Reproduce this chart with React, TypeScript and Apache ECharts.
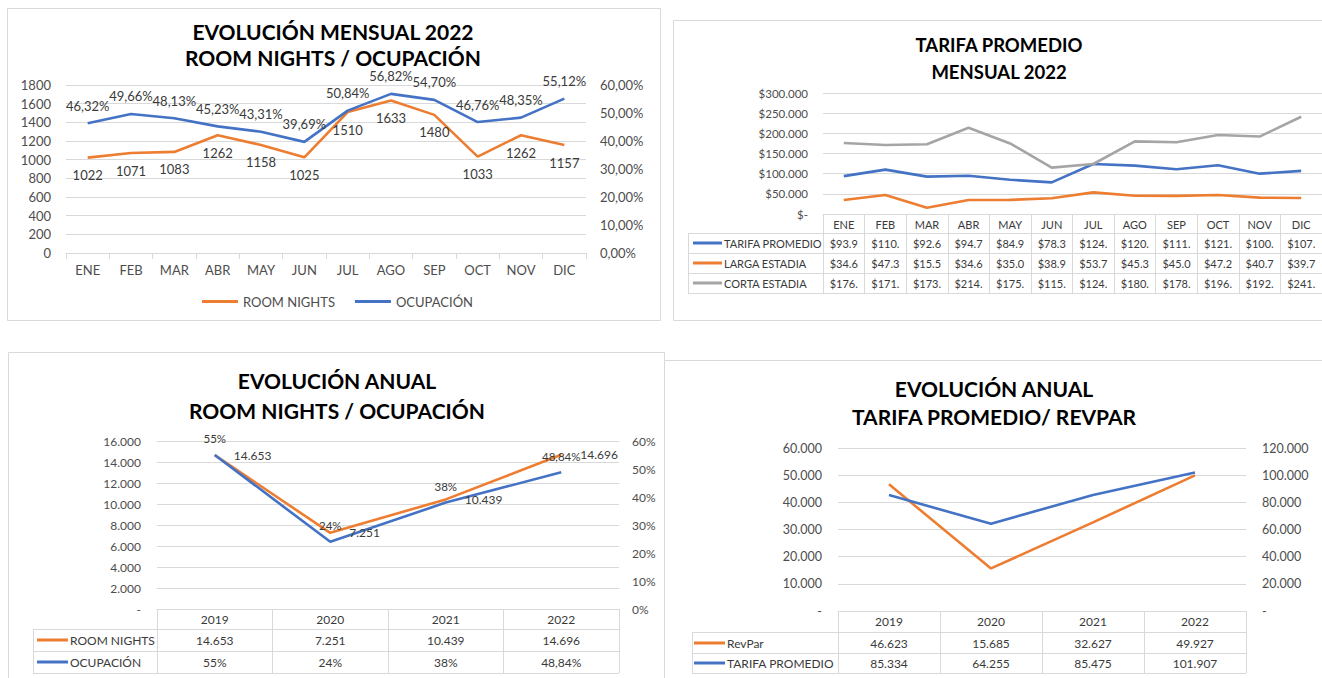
import React, { useEffect, useRef } from 'react';
import * as echarts from 'echarts';

// ---------- DATA ----------
const MONTHS = ['ENE', 'FEB', 'MAR', 'ABR', 'MAY', 'JUN', 'JUL', 'AGO', 'SEP', 'OCT', 'NOV', 'DIC'];
const ROOM_NIGHTS_2022 = [1022, 1071, 1083, 1262, 1158, 1025, 1510, 1633, 1480, 1033, 1262, 1157];
const OCUPACION_2022 = [46.32, 49.66, 48.13, 45.23, 43.31, 39.69, 50.84, 56.82, 54.7, 46.76, 48.35, 55.12];
const LEFT1_TICKS = { min: 0, max: 1800, interval: 200 };
const RIGHT1_TICKS = { min: 0, max: 60, interval: 10 };

const TARIFA_PROMEDIO_MES = [93900, 110000, 92600, 94700, 84900, 78300, 124000, 120000, 111000, 121000, 100000, 107000];
const LARGA_ESTADIA_MES = [34600, 47300, 15500, 34600, 35000, 38900, 53700, 45300, 45000, 47200, 40700, 39700];
const CORTA_ESTADIA_MES = [176000, 171000, 173000, 214000, 175000, 115000, 124000, 180000, 178000, 196000, 192000, 241000];
const TARIFA_TICKS = { min: 0, max: 300000, interval: 50000 };

const YEARS = ['2019', '2020', '2021', '2022'];
const ROOM_NIGHTS_ANUAL = [14653, 7251, 10439, 14696];
const OCUPACION_ANUAL = [55, 24, 38, 48.84];
const LEFT3_TICKS = { min: 0, max: 16000, interval: 2000 };
const RIGHT3_TICKS = { min: 0, max: 60, interval: 10 };

const REVPAR_ANUAL = [46623, 15685, 32627, 49927];
const TARIFA_ANUAL = [85334, 64255, 85475, 101907];
const LEFT4_TICKS = { min: 0, max: 60000, interval: 10000 };
const RIGHT4_TICKS = { min: 0, max: 120000, interval: 20000 };

const S_RN = 'ROOM NIGHTS';
const S_OCU = 'OCUPACIÓN';
const S_TP = 'TARIFA PROMEDIO';
const S_LE = 'LARGA ESTADIA';
const S_CE = 'CORTA ESTADIA';
const S_RP = 'RevPar';

// ---------- STYLE ----------
const FONT = 'Lato, "Open Sans", "Noto Sans", sans-serif';
const AX = '#4d4d4d';
const TXT = '#3a3a3a';
const LINE = '#d9d9d9';
const ORANGE = '#ED7D31';
const BLUE = '#4472C4';
const GRAY = '#A5A5A5';

const thousands = (v: number) => Math.round(v).toString().replace(/\B(?=(\d{3})+(?!\d))/g, '.');
const pct2 = (v: number) => v.toFixed(2).replace('.', ',') + '%';
const pctAuto = (v: number) => (Number.isInteger(v) ? v + '%' : v.toFixed(2).replace('.', ',') + '%');
const money5 = (v: number) => ('$' + thousands(v)).slice(0, 5);

// panel grid rectangles (layout)
const G1 = { l: 66, r: 586, t: 85, b: 253 };
const G2 = { l: 823, r: 1332, t: 93, b: 214 };
const G3 = { l: 157, r: 619, t: 441, b: 609 };
const G4 = { l: 838, r: 1246, t: 448, b: 611 };

function gridOf(g: any) {
  return { left: g.l, top: g.t, width: g.r - g.l, height: g.b - g.t, containLabel: false };
}

function rowAxis(gridIndex: number, cats: string[], offset: number, texts: string[], fontSize: number) {
  return {
    type: 'category', gridIndex, position: 'bottom', offset, data: cats, boundaryGap: true,
    axisLine: { show: false }, axisTick: { show: false }, splitLine: { show: false },
    axisLabel: {
      interval: 0, margin: 0, verticalAlign: 'middle', fontSize, color: TXT, fontFamily: FONT,
      formatter: (_v: string, i: number) => texts[i],
    },
  };
}

function headerAxis(gridIndex: number, cats: string[], tickLen: number, fontSize: number) {
  return {
    type: 'category', gridIndex, position: 'bottom', data: cats, boundaryGap: true,
    axisLine: { show: true, lineStyle: { color: LINE, width: 1 } },
    axisTick: { show: true, length: tickLen, lineStyle: { color: LINE, width: 1 } },
    axisLabel: { interval: 0, margin: 10, verticalAlign: 'middle', fontSize, color: TXT, fontFamily: FONT },
  };
}

function valAxis(gridIndex: number, pos: string, t: any, fmt: (v: number) => string, margin: number, fontSize: number, split: boolean) {
  return {
    type: 'value', gridIndex, position: pos, min: t.min, max: t.max, interval: t.interval,
    axisLine: { show: false }, axisTick: { show: false },
    splitLine: { show: split, lineStyle: { color: LINE, width: 1 } },
    axisLabel: { formatter: fmt, margin, fontSize, color: AX, fontFamily: FONT },
  };
}

function lineSeries(name: string, xi: number, yi: number, data: number[], color: string, label?: any) {
  return {
    type: 'line', name, xAxisIndex: xi, yAxisIndex: yi, data,
    symbol: 'circle', symbolSize: 0.01, showSymbol: true,
    lineStyle: { color, width: 2.6 }, itemStyle: { color },
    label: label ? { show: true, fontSize: 13, color: TXT, fontFamily: FONT, ...label } : { show: false },
  };
}

function hLine(x1: number, x2: number, y: number) {
  return { type: 'line', shape: { x1, y1: y + 0.5, x2, y2: y + 0.5 }, style: { stroke: LINE, lineWidth: 1 }, silent: true };
}
function vLine(x: number, y1: number, y2: number) {
  return { type: 'line', shape: { x1: x + 0.5, y1, x2: x + 0.5, y2 }, style: { stroke: LINE, lineWidth: 1 }, silent: true };
}
function txt(text: string, x: number, y: number, size: number, opts: any = {}) {
  return {
    type: 'text', silent: true,
    style: {
      text, x, y, fill: opts.fill || '#000', fontSize: size, fontFamily: FONT, fontWeight: opts.bold ? 'bold' : 'normal',
      align: opts.align || 'left', textAlign: opts.align || 'left', verticalAlign: 'middle', textVerticalAlign: 'middle',
    },
  };
}
function key(x1: number, x2: number, y: number, color: string) {
  return { type: 'line', shape: { x1, y1: y, x2, y2: y }, style: { stroke: color, lineWidth: 3 }, silent: true };
}
function panel(x: number, y: number, w: number, h: number) {
  return { type: 'rect', shape: { x: x + 0.5, y: y + 0.5, width: w, height: h }, style: { fill: '#fff', stroke: LINE, lineWidth: 1 }, silent: true, z: -10 };
}

export default function App() {
  const ref = useRef<HTMLDivElement>(null);
  useEffect(() => {
    if (!ref.current) return;
    const chart = echarts.init(ref.current, undefined, { renderer: 'svg' });

    const t2Rows = [
      { name: S_TP, color: BLUE, vals: TARIFA_PROMEDIO_MES.map(money5), y: 243 },
      { name: S_LE, color: ORANGE, vals: LARGA_ESTADIA_MES.map(money5), y: 263 },
      { name: S_CE, color: GRAY, vals: CORTA_ESTADIA_MES.map(money5), y: 283 },
    ];
    const t3Rows = [
      { name: S_RN, color: ORANGE, vals: ROOM_NIGHTS_ANUAL.map(thousands), y: 640 },
      { name: S_OCU, color: BLUE, vals: OCUPACION_ANUAL.map(pctAuto), y: 662 },
    ];
    const t4Rows = [
      { name: S_RP, color: ORANGE, vals: REVPAR_ANUAL.map(thousands), y: 643 },
      { name: S_TP, color: BLUE, vals: TARIFA_ANUAL.map(thousands), y: 663 },
    ];

    const graphics: any[] = [
      panel(7, 8, 653, 312),
      panel(673, 20, 660, 300),
      panel(8, 352, 656, 340),
      panel(664, 360, 670, 330),
      txt('EVOLUCIÓN MENSUAL 2022', 333, 31, 21, { bold: true, align: 'center' }),
      txt('ROOM NIGHTS / OCUPACIÓN', 333, 57, 21, { bold: true, align: 'center' }),
      txt('TARIFA PROMEDIO', 999, 45, 18.5, { bold: true, align: 'center' }),
      txt('MENSUAL 2022', 999, 72, 18.5, { bold: true, align: 'center' }),
      txt('EVOLUCIÓN ANUAL', 337, 380, 21, { bold: true, align: 'center' }),
      txt('ROOM NIGHTS / OCUPACIÓN', 337, 410, 21, { bold: true, align: 'center' }),
      txt('EVOLUCIÓN ANUAL', 994, 388, 21, { bold: true, align: 'center' }),
      txt('TARIFA PROMEDIO/ REVPAR', 994, 416, 21, { bold: true, align: 'center' }),
      hLine(688, 1332, 233), hLine(688, 1332, 253), hLine(688, 1332, 273), hLine(688, 1332, 293),
      vLine(688, 233, 293),
      hLine(33, G3.r, 629), hLine(33, G3.r, 651), hLine(33, G3.r, 673),
      vLine(33, 629, 673),
      hLine(692, G4.r, 632), hLine(692, G4.r, 653), hLine(692, G4.r, 673),
      vLine(692, 632, 673),
    ];
    t2Rows.forEach((r) => { graphics.push(key(693, 722, r.y, r.color), txt(r.name, 724, r.y, 11, { fill: TXT })); });
    t3Rows.forEach((r) => { graphics.push(key(37, 68, r.y, r.color), txt(r.name, 70, r.y, 12, { fill: TXT })); });
    t4Rows.forEach((r) => { graphics.push(key(694, 725, r.y, r.color), txt(r.name, 727, r.y, 12, { fill: TXT })); });

    const option: any = {
      animation: false,
      backgroundColor: '#fff',
      textStyle: { fontFamily: FONT },
      grid: [gridOf(G1), gridOf(G2), gridOf(G3), gridOf(G4)],
      legend: {
        data: [S_RN, S_OCU], left: 197, top: 290, icon: 'rect', itemWidth: 36, itemHeight: 3, itemGap: 20,
        textStyle: { fontSize: 13, color: AX, fontFamily: FONT }, selectedMode: false,
      },
      xAxis: [
        {
          type: 'category', gridIndex: 0, data: MONTHS, boundaryGap: true,
          axisLine: { lineStyle: { color: LINE } }, axisTick: { show: true, length: 6, lineStyle: { color: LINE } },
          axisLabel: { interval: 0, margin: 10, fontSize: 13, color: AX, fontFamily: FONT },
        },
        headerAxis(1, MONTHS, 79, 11),
        rowAxis(1, MONTHS, t2Rows[0].y - G2.b, t2Rows[0].vals, 11),
        rowAxis(1, MONTHS, t2Rows[1].y - G2.b, t2Rows[1].vals, 11),
        rowAxis(1, MONTHS, t2Rows[2].y - G2.b, t2Rows[2].vals, 11),
        headerAxis(2, YEARS, 64, 12),
        rowAxis(2, YEARS, t3Rows[0].y - G3.b, t3Rows[0].vals, 12),
        rowAxis(2, YEARS, t3Rows[1].y - G3.b, t3Rows[1].vals, 12),
        headerAxis(3, YEARS, 62, 12),
        rowAxis(3, YEARS, t4Rows[0].y - G4.b, t4Rows[0].vals, 12),
        rowAxis(3, YEARS, t4Rows[1].y - G4.b, t4Rows[1].vals, 12),
      ],
      yAxis: [
        valAxis(0, 'left', LEFT1_TICKS, (v) => String(v), 15, 13, true),
        valAxis(0, 'right', RIGHT1_TICKS, pct2, 14, 13, false),
        valAxis(1, 'left', TARIFA_TICKS, (v) => (v === 0 ? '$-' : '$' + thousands(v)), 15, 11.5, true),
        valAxis(2, 'left', LEFT3_TICKS, (v) => (v === 0 ? '-' : thousands(v)), 16, 12, true),
        valAxis(2, 'right', RIGHT3_TICKS, (v) => v + '%', 13, 12, false),
        valAxis(3, 'left', LEFT4_TICKS, (v) => (v === 0 ? '-' : thousands(v)), 16, 12.5, true),
        valAxis(3, 'right', RIGHT4_TICKS, (v) => (v === 0 ? '-' : thousands(v)), 16, 12.5, false),
      ],
      series: [
        lineSeries(S_RN, 0, 0, ROOM_NIGHTS_2022, ORANGE, { position: 'bottom', distance: 11 }),
        lineSeries(S_OCU, 0, 1, OCUPACION_2022, BLUE, { position: 'top', distance: 11, formatter: (p: any) => pct2(p.value) }),
        lineSeries(S_TP, 1, 2, TARIFA_PROMEDIO_MES, BLUE),
        lineSeries(S_LE, 1, 2, LARGA_ESTADIA_MES, ORANGE),
        lineSeries(S_CE, 1, 2, CORTA_ESTADIA_MES, GRAY),
        lineSeries(S_RN, 5, 3, ROOM_NIGHTS_ANUAL, ORANGE, { position: 'right', distance: 19, fontSize: 12, formatter: (p: any) => thousands(p.value) }),
        lineSeries(S_OCU, 5, 4, OCUPACION_ANUAL, BLUE, { position: 'top', distance: 10, fontSize: 11.5, formatter: (p: any) => pctAuto(p.value) }),
        lineSeries(S_RP, 8, 5, REVPAR_ANUAL, ORANGE),
        lineSeries(S_TP, 8, 6, TARIFA_ANUAL, BLUE),
      ],
      graphic: { elements: graphics },
    };
    chart.setOption(option);
    return () => chart.dispose();
  }, []);

  return <div ref={ref} style={{ position: 'fixed', left: 0, top: 0, width: 1322, height: 678, background: '#fff' }} />;
}
